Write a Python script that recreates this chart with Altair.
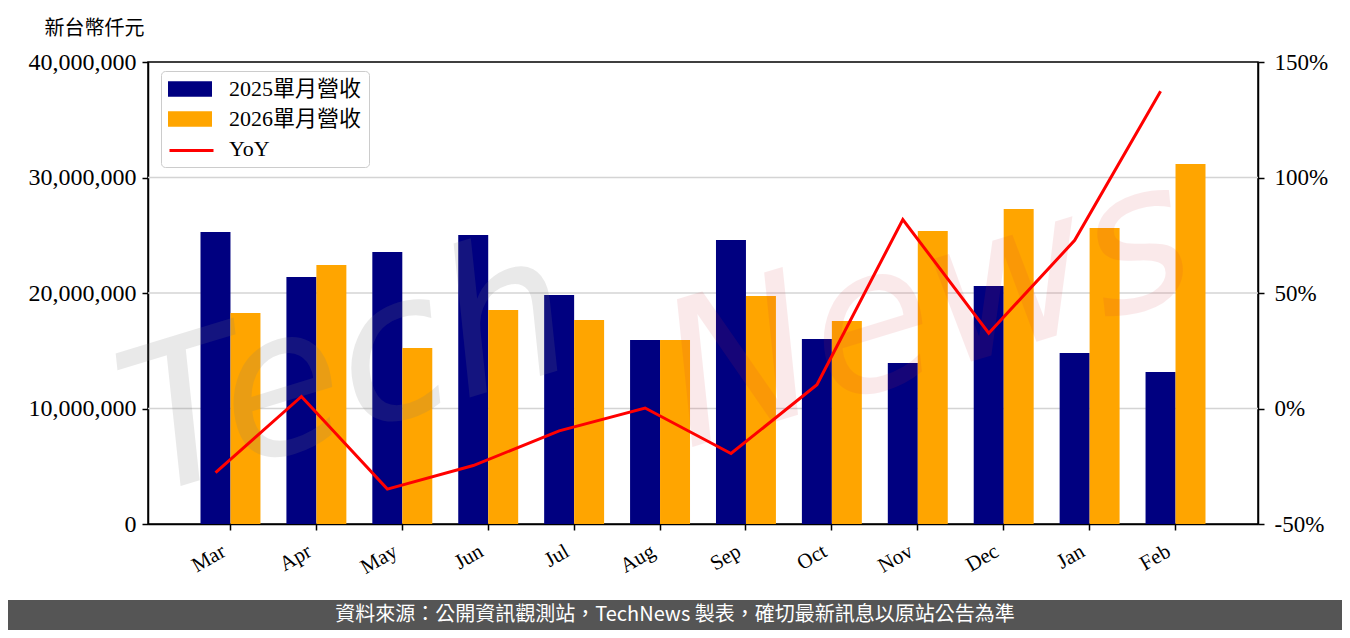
import altair as alt
import pandas as pd

months = ["Mar", "Apr", "May", "Jun", "Jul", "Aug", "Sep", "Oct", "Nov", "Dec", "Jan", "Feb"]
rev_2025 = [25280000, 21390000, 23550000, 25020000, 19830000, 15930000,
            24590000, 16020000, 13940000, 20610000, 14810000, 13160000]
rev_2026 = [18270000, 22420000, 15240000, 18530000, 17660000, 15930000,
            19740000, 17580000, 25370000, 27270000, 25630000, 31170000]
yoy = [-0.278, 0.052, -0.349, -0.247, -0.097, 0.002, -0.195, 0.103, 0.818, 0.326, 0.728, 1.373]

series_names = ["2025單月營收", "2026單月營收"]
yoy_name = "YoY"
y_ticks = [0, 10000000, 20000000, 30000000, 40000000]
grid_ticks = [10000000, 20000000, 30000000]
yoy_ticks = [-0.5, 0, 0.5, 1.0, 1.5]
unit_title = "新台幣仟元"
footer_text = "資料來源：公開資訊觀測站，TechNews 製表，確切最新訊息以原站公告為準"
wm_tech = "Tech"
wm_news = "News"

SERIF = "Liberation Serif, Noto Sans CJK TC"
CJK = "Noto Sans CJK TC"

bars_df = pd.DataFrame({
    "month": months * 2,
    "series": [series_names[0]] * len(months) + [series_names[1]] * len(months),
    "value": rev_2025 + rev_2026,
})
line_df = pd.DataFrame({"month": months, "yoy": yoy, "k": [yoy_name] * len(months)})
grid_df = pd.DataFrame({"g": grid_ticks})
footer_df = pd.DataFrame({"text": [footer_text]})

x_scale = alt.Scale(domain=months, paddingInner=0, paddingOuter=0.46)
y_scale = alt.Scale(domain=[0, 40000000], nice=False)

x_axis = alt.Axis(title=None, labelAngle=330, labelAlign="right", labelBaseline="top",
                  labelFont=SERIF, labelFontSize=21, labelColor="black", labelPadding=10,
                  labelOffset=-12,
                  tickColor="black", tickWidth=1.5, tickSize=6, domainColor="black",
                  domainWidth=1.5, grid=False)

left_axis = alt.Axis(values=y_ticks, format=",d", title=unit_title, titleAngle=0,
                     titleX=-104, titleY=-34, titleAlign="left", titleBaseline="middle",
                     titleFont=CJK, titleFontSize=20, titleFontWeight="normal", titleColor="black",
                     labelFont=SERIF, labelFontSize=24, labelColor="black", labelPadding=6,
                     tickColor="black", tickWidth=1.5, tickSize=6, domainColor="black",
                     domainWidth=1.5, grid=False)

right_axis = alt.Axis(orient="right", values=yoy_ticks, labelExpr="round(datum.value*100) + '%'",
                      title=None, labelFont=SERIF, labelFontSize=23, labelColor="black",
                      labelPadding=10, tickColor="black", tickWidth=1.5, tickSize=6,
                      domainColor="black", domainWidth=1.5, grid=False)

rect_path = "M-2,-0.7H2V0.7H-2Z"

grid = alt.Chart(grid_df).mark_rule(color="#d4d4d4", strokeWidth=1.5).encode(
    y=alt.Y("g:Q", scale=y_scale, axis=None))

bars = alt.Chart(bars_df).mark_bar().encode(
    x=alt.X("month:N", scale=x_scale, axis=x_axis, sort=months),
    xOffset=alt.XOffset("series:N", scale=alt.Scale(domain=series_names, paddingOuter=0.433, paddingInner=0)),
    y=alt.Y("value:Q", scale=y_scale, axis=left_axis),
    fill=alt.Fill("series:N",
                  scale=alt.Scale(domain=series_names + [yoy_name],
                                  range=["#000080", "#FFA500", "rgba(255,255,255,0)"]),
                  legend=alt.Legend(orient="none", legendX=13, legendY=9, title=None,
                                    symbolType=rect_path, symbolSize=484, symbolStrokeWidth=0,
                                    symbolOffset=11,
                                    labelFont=SERIF, labelFontSize=22, labelColor="black",
                                    labelOffset=28, rowPadding=8, padding=7,
                                    fillColor="white", strokeColor="#cccccc", cornerRadius=4)),
)

wm1 = alt.Chart(pd.DataFrame({"w": [wm_tech]})).mark_text(
    font="DejaVu Sans", fontStyle="italic", fontSize=200, angle=343,
    color="#7a7a7a", opacity=0.16).encode(
    x=alt.value(200), y=alt.value(310), text="w:N")
wm2 = alt.Chart(pd.DataFrame({"w": [wm_news]})).mark_text(
    font="DejaVu Sans", fontStyle="italic", fontSize=200, angle=343,
    color="#d9303c", opacity=0.1).encode(
    x=alt.value(780), y=alt.value(250), text="w:N")

line = alt.Chart(line_df).mark_line(strokeWidth=3).encode(
    x=alt.X("month:N", scale=x_scale, axis=x_axis, sort=months, bandPosition=0.326),
    y=alt.Y("yoy:Q", scale=alt.Scale(domain=[-0.5, 1.5], nice=False), axis=right_axis),
    stroke=alt.Stroke("k:N", scale=alt.Scale(domain=[yoy_name], range=["red"]),
                      legend=alt.Legend(orient="none", legendX=20, legendY=65, title=None,
                                        symbolType="stroke", symbolSize=1936, symbolStrokeWidth=3,
                                        labelExpr="''", padding=0)),
)

footer_bg = alt.Chart(footer_df).mark_rect(color="#555555").encode(
    x=alt.value(-140), x2=alt.value(1194), y=alt.value(538), y2=alt.value(568))
footer_txt = alt.Chart(footer_df).mark_text(color="white", font=CJK, fontSize=20).encode(
    x=alt.value(527), y=alt.value(553), text="text:N")

chart = alt.layer(grid, bars, wm1, wm2, line, footer_bg, footer_txt).resolve_scale(
    y="independent"
).properties(
    width=1110, height=462,
    padding={"left": 140, "top": 54, "right": 84, "bottom": 106},
    autosize=alt.AutoSizeParams(type="none"),
    background="white",
).configure_view(stroke="black", strokeWidth=1.5)

chart.save("out.html", embed_options={"renderer": "svg", "actions": False})
